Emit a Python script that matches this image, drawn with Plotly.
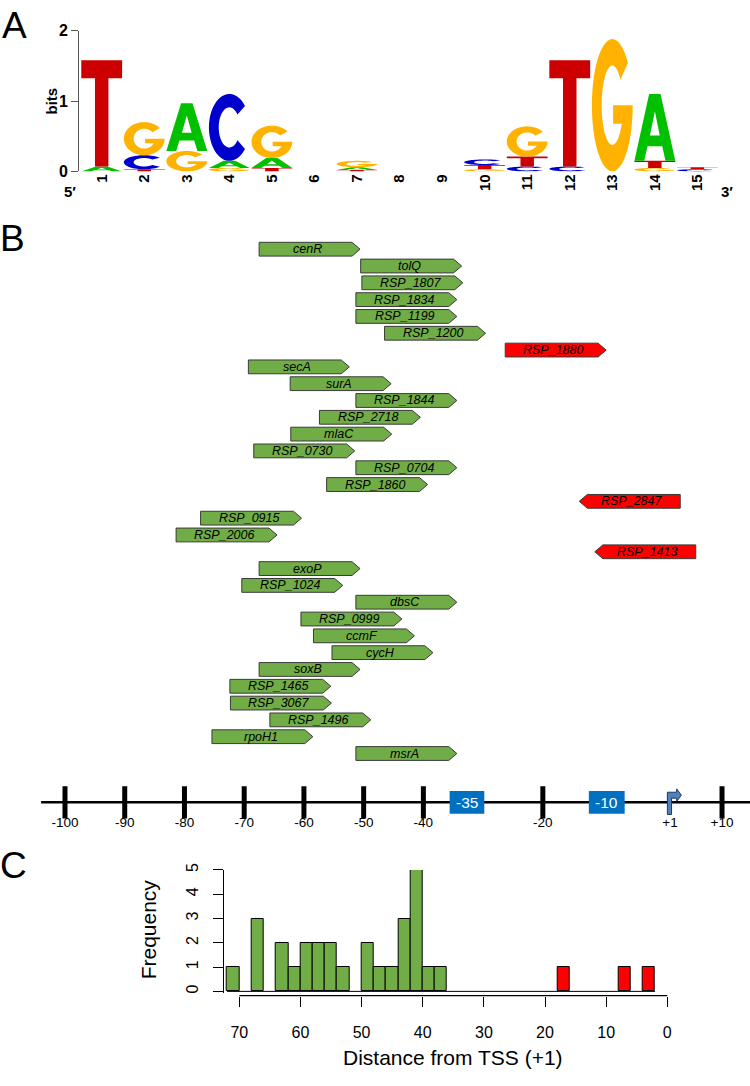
import numpy as np
import plotly.graph_objects as go

FONT = "Liberation Sans, Arial, sans-serif"

# --- A: motif logo, information (bits) per base at positions 1..15
positions = list(range(1, 16))
bits_A = [0.07, 0, 0.68, 0.10, 0.14, 0, 0.04, 0, 0, 0, 0, 0, 0, 0.95, 0]
bits_C = [0, 0.20, 0, 0.95, 0, 0, 0, 0, 0, 0.08, 0.07, 0.07, 0, 0, 0.03]
bits_G = [0, 0.47, 0.29, 0.05, 0.46, 0, 0.09, 0, 0, 0.03, 0.43, 0, 1.88, 0.05, 0]
bits_T = [1.51, 0.03, 0, 0, 0.05, 0, 0.02, 0, 0, 0.06, 0.14, 1.51, 0, 0.10, 0.03]
base_colors = {"A": "#00C000", "C": "#0000CC", "G": "#FFB300", "T": "#CC0000"}

# --- B: motif start position relative to TSS, one row per gene
genes = ["cenR", "tolQ", "RSP_1807", "RSP_1834", "RSP_1199", "RSP_1200", "RSP_1880",
         "secA", "surA", "RSP_1844", "RSP_2718", "mlaC", "RSP_0730", "RSP_0704",
         "RSP_1860", "RSP_2847", "RSP_0915", "RSP_2006", "RSP_1413", "exoP", "RSP_1024",
         "dbsC", "RSP_0999", "ccmF", "cycH", "soxB", "RSP_1465", "RSP_3067", "RSP_1496",
         "rpoH1", "msrA"]
gene_start = [-67.5, -50.5, -50.3, -51.3, -51.3, -46.5, -26.3,
              -69.3, -62.3, -51.3, -57.4, -62.2, -68.4, -51.3,
              -56.2, -13.9, -77.3, -81.4, -11.3, -67.5, -70.4,
              -51.3, -60.5, -58.4, -55.3, -67.5, -72.4, -72.3, -65.7,
              -75.4, -51.3]
gene_strand = ["+"] * 15 + ["-", "+", "+", "-"] + ["+"] * 12
gene_group = ["up"] * 6 + ["down"] + ["up"] * 8 + ["down", "up", "up", "down"] + ["up"] * 12
motif_len = 16.9

scale_ticks = [-100, -90, -80, -70, -60, -50, -40, -20, 10]
tss_pos = 1
box_labels = ["-35", "-10"]
box_from = [-35.6, -12.3]
box_to = [-29.8, -6.3]

# --- C: histogram of distance from TSS (2 bp bins, bin centres)
green_bins = [71, 67, 63, 61, 59, 57, 55, 53, 49, 47, 45, 43, 41, 39, 37]
green_freq = [1, 3, 2, 1, 2, 2, 2, 1, 2, 1, 1, 3, 5, 1, 1]
red_bins = [17, 7, 3]
red_freq = [1, 1, 1]
dist_ticks = [70, 60, 50, 40, 30, 20, 10, 0]

GREEN = "#70AD47"
RED = "#FF0000"
W, H = 750, 1086


def px(x, y):
    return x / W, 1 - y / H


def glyph(letter):
    if letter == "T":
        return [[(0, 1), (1, 1), (1, 0.83), (0.665, 0.83), (0.665, 0), (0.335, 0),
                 (0.335, 0.83), (0, 0.83)]]
    if letter == "A":
        return [[(0, 0), (0.36, 1), (0.64, 1), (1, 0), (0.76, 0), (0.68, 0.22),
                 (0.32, 0.22), (0.24, 0)],
                [(0.38, 0.38), (0.5, 0.74), (0.62, 0.38)]]
    if letter == "C":
        th = np.radians(np.linspace(40, 320, 48))
        outer = [(0.5 + 0.5 * np.cos(t), 0.5 + 0.5 * np.sin(t)) for t in th]
        inner = [(0.5 + 0.26 * np.cos(t), 0.5 + 0.3 * np.sin(t)) for t in th[::-1]]
        return [outer + inner]
    th = np.radians(np.linspace(40, 360, 52))
    outer = [(0.5 + 0.5 * np.cos(t), 0.5 + 0.5 * np.sin(t)) for t in th]
    th2 = np.radians(np.linspace(334, 40, 48))
    inner = [(0.5 + 0.26 * np.cos(t), 0.5 + 0.3 * np.sin(t)) for t in th2]
    return [outer + [(0.52, 0.5), (0.52, 0.36), (0.74, 0.36)] + inner]


def poly_path(rings):
    out = ""
    for ring in rings:
        out += "M" + "L".join(f"{x:.4f},{y:.4f}" for x, y in ring) + "Z"
    return out


fig = go.Figure()
shapes = []
annotations = []

# logo letters stacked smallest at the bottom
for i, pos in enumerate(positions):
    stack = sorted([("A", bits_A[i]), ("C", bits_C[i]), ("G", bits_G[i]), ("T", bits_T[i])],
                   key=lambda b: b[1])
    y0 = 0
    for base, h in stack:
        if h <= 0:
            continue
        rings = [[(pos - 0.48 + 0.96 * gx, y0 + h * gy) for gx, gy in r] for r in glyph(base)]
        shapes.append(dict(type="path", path=poly_path(rings), xref="x", yref="y",
                           fillcolor=base_colors[base], fillrule="evenodd",
                           line=dict(width=0), layer="above"))
        y0 += h
# invisible trace so the logo axes render
fig.add_trace(go.Scatter(x=positions, y=[0] * 15, mode="markers", marker=dict(opacity=0),
                         xaxis="x", yaxis="y", hoverinfo="skip"))

# gene arrows
half = 0.41
tip = 1.35
for row, (g, s, strand, grp) in enumerate(zip(genes, gene_start, gene_strand, gene_group)):
    e = s + motif_len
    if strand == "+":
        pts = [(s, row - half), (e - tip, row - half), (e, row), (e - tip, row + half), (s, row + half)]
        cx = s + motif_len / 2 - 0.3
    else:
        pts = [(s, row), (s + tip, row - half), (e, row - half), (e, row + half), (s + tip, row + half)]
        cx = s + motif_len / 2 + 0.4
    shapes.append(dict(type="path", path=poly_path([pts]), xref="x2", yref="y2",
                       fillcolor=GREEN if grp == "up" else RED,
                       line=dict(color="#3a3a3a", width=1)))
    annotations.append(dict(x=cx, y=row, xref="x2", yref="y2", text=f"<i>{g}</i>",
                            showarrow=False, font=dict(family=FONT, size=12.5, color="black")))
fig.add_trace(go.Scatter(x=gene_start, y=list(range(len(genes))), mode="markers",
                         marker=dict(opacity=0), xaxis="x2", yaxis="y2", hoverinfo="skip"))

# promoter scale
fig.add_trace(go.Scatter(x=[min(scale_ticks) - 4, 14.7], y=[0, 0], mode="lines",
                         line=dict(color="black", width=2.5), xaxis="x3", yaxis="y3",
                         hoverinfo="skip"))
fig.add_trace(go.Scatter(x=scale_ticks, y=[0] * len(scale_ticks), mode="markers",
                         marker=dict(symbol="line-ns", size=23,
                                     line=dict(color="black", width=5)),
                         xaxis="x3", yaxis="y3", hoverinfo="skip"))
lab_pos = scale_ticks[:-1] + [tss_pos, scale_ticks[-1]]
lab_txt = [f"+{v}" if v > 0 else str(v) for v in lab_pos]
fig.add_trace(go.Scatter(x=[v + (0.3 if v == tss_pos else 0) for v in lab_pos],
                         y=[-22] * len(lab_pos), mode="text", text=lab_txt,
                         textfont=dict(family=FONT, size=13.5, color="black"),
                         xaxis="x3", yaxis="y3", hoverinfo="skip"))
for lab, a, b in zip(box_labels, box_from, box_to):
    shapes.append(dict(type="rect", xref="x3", yref="y3", x0=a, x1=b, y0=-11.5, y1=11.5,
                       fillcolor="#0070C0", line=dict(width=0)))
    annotations.append(dict(x=(a + b) / 2, y=0, xref="x3", yref="y3", text=lab,
                            showarrow=False, font=dict(family=FONT, size=15.5, color="white")))
t = tss_pos
flag = [(t - 0.15, -12.3), (t + 0.55, -12.3), (t + 0.55, 4.3), (t + 1.4, 4.3), (t + 1.4, 1),
        (t + 2.2, 7.3), (t + 1.4, 13.7), (t + 1.4, 10.3), (t - 0.15, 10.3)]
shapes.append(dict(type="path", path=poly_path([flag]), xref="x3", yref="y3",
                   fillcolor="#4F81BD", line=dict(color="#1F3864", width=1)))

# histogram
fig.add_trace(go.Scatter(x=[max(green_bins) + 1, min(red_bins) - 1], y=[0, 0], mode="lines",
                         line=dict(color="black", width=1), xaxis="x4", yaxis="y4",
                         hoverinfo="skip"))
fig.add_trace(go.Bar(x=green_bins, y=green_freq, width=2,
                     marker=dict(color=GREEN, line=dict(color="black", width=1)),
                     xaxis="x4", yaxis="y4"))
fig.add_trace(go.Bar(x=red_bins, y=red_freq, width=2,
                     marker=dict(color=RED, line=dict(color="black", width=1)),
                     xaxis="x4", yaxis="y4"))
shapes.append(dict(type="line", xref="x4", yref="paper", x0=max(dist_ticks), x1=min(dist_ticks),
                   y0=1 - 1003.3 / H, y1=1 - 1003.3 / H, line=dict(color="black", width=1.3)))


# text labels
def note(x, y, text, size, angle=0, bold=False):
    X, Y = px(x, y)
    annotations.append(dict(x=X, y=Y, xref="paper", yref="paper", text=text, showarrow=False,
                            textangle=angle, xanchor="center", yanchor="middle",
                            font=dict(family=FONT, size=size, color="black",
                                      weight="bold" if bold else "normal")))


note(14, 18, "A", 37)
note(12, 234, "B", 37)
note(13, 871, "C", 37)
note(52, 95, "bits", 15, -90, True)
note(70, 186, "5′", 15, 0, True)
note(727, 186, "3′", 15, 0, True)
note(148, 936, "Frequency", 21, -90)
note(453, 1066, "Distance from TSS (+1)", 21)

hidden = dict(visible=False, showgrid=False, zeroline=False)
fig.update_layout(
    width=W, height=H, margin=dict(l=0, r=0, t=0, b=0),
    paper_bgcolor="white", plot_bgcolor="white", showlegend=False, bargap=0,
    font=dict(family=FONT, color="black"),
    shapes=shapes, annotations=annotations,
    xaxis=dict(domain=[79 / W, 720 / W], range=[0.4665, 15.531], anchor="y",
               tickvals=positions, ticktext=[str(p) for p in positions], tickangle=-90,
               showline=False, showgrid=False, zeroline=False, ticks="",
               tickfont=dict(size=15, weight="bold"), ticklabelstandoff=-1),
    yaxis=dict(domain=[1 - 166 / H, 1 - 23 / H], range=[0, 2], anchor="x",
               tickvals=[0, 1, 2], ticks="outside", ticklen=7, showline=True,
               linecolor="#555555", tickcolor="#555555", showgrid=False, zeroline=False,
               tickfont=dict(size=16, weight="bold")),
    xaxis2=dict(domain=[0, 1], range=[-110.883, 14.683], anchor="y2", **hidden),
    yaxis2=dict(domain=[1 - 765.9 / H, 1 - 236.5 / H], range=[30.5, -0.5], anchor="x2", **hidden),
    xaxis3=dict(domain=[0, 1], range=[-110.883, 14.683], anchor="y3", **hidden),
    yaxis3=dict(domain=[1 - 837 / H, 1 - 777 / H], range=[-30, 30], anchor="x3", **hidden),
    xaxis4=dict(domain=[222.7 / W, 680 / W], range=[72.717, -2.079], anchor="free",
                position=1 - 1003.3 / H, tickvals=dist_ticks, ticks="outside", ticklen=10,
                tickwidth=1.3, tickcolor="black", showline=False, showgrid=False,
                zeroline=False, tickfont=dict(size=16), ticklabelstandoff=12),
    yaxis4=dict(domain=[1 - 1000.5 / H, 1 - 875.7 / H], range=[-0.06, 5], anchor="free",
                position=222.7 / W, tickvals=[0, 1, 2, 3, 4, 5], ticks="outside", ticklen=10,
                tickwidth=1.3, tickcolor="black", showline=True, linecolor="black",
                linewidth=1.3, showgrid=False, zeroline=False, tickangle=-90,
                tickfont=dict(size=16), ticklabelstandoff=8),
)

# the page's default body margin would push the 750x1086 figure off the window
fig.write_html("out.html", config={"displayModeBar": False},
               post_script="document.body.style.margin='0';")
